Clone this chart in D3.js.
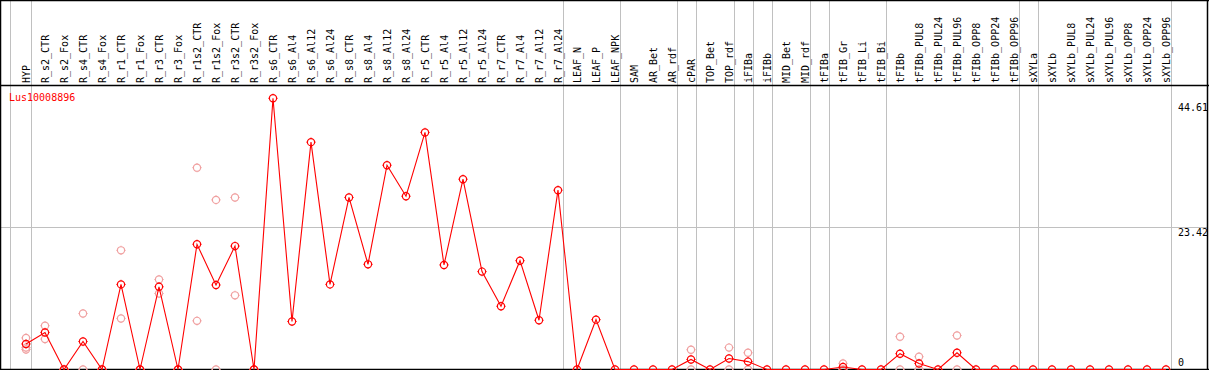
<!DOCTYPE html>
<html>
<head>
<meta charset="utf-8">
<script src="https://cdn.jsdelivr.net/npm/d3@7"></script>
<style>
  body { margin: 0; background: #fff; }
  svg text { font-family: "DejaVu Sans Mono", monospace; font-size: 10px; }
</style>
</head>
<body>
<svg width="1209" height="370"></svg>
<script>
var categories = ["HYP", "R_s2_CTR", "R_s2_Fox", "R_s4_CTR", "R_s4_Fox", "R_r1_CTR", "R_r1_Fox",
    "R_r3_CTR", "R_r3_Fox", "R_r1s2_CTR", "R_r1s2_Fox", "R_r3s2_CTR", "R_r3s2_Fox",
    "R_s6_CTR", "R_s6_Al4", "R_s6_Al12", "R_s6_Al24", "R_s8_CTR", "R_s8_Al4", "R_s8_Al12", "R_s8_Al24",
    "R_r5_CTR", "R_r5_Al4", "R_r5_Al12", "R_r5_Al24", "R_r7_CTR", "R_r7_Al4", "R_r7_Al12", "R_r7_Al24",
    "LEAF_N", "LEAF_P", "LEAF_NPK", "SAM", "AR_Bet", "AR_rdf", "cPAR", "TOP_Bet", "TOP_rdf",
    "iFIBa", "iFIBb", "MID_Bet", "MID_rdf", "tFIBa", "tFIB_Gr", "tFIB_Li", "tFIB_Bi", "tFIBb",
    "tFIBb_PUL8", "tFIBb_PUL24", "tFIBb_PUL96", "tFIBb_OPP8", "tFIBb_OPP24", "tFIBb_OPP96",
    "sXYLa", "sXYLb", "sXYLb_PUL8", "sXYLb_PUL24", "sXYLb_PUL96", "sXYLb_OPP8", "sXYLb_OPP24", "sXYLb_OPP96"];

// mean expression
var means = [4.2, 6.1, 0, 4.6, 0, 14.0, 0, 13.6, 0, 20.6, 13.9, 20.3, 0,
    44.61, 7.9, 37.4, 14.0, 28.3, 17.3, 33.6, 28.5, 39.0, 17.2, 31.3, 16.1, 10.4, 17.9, 8.1, 29.5,
    0, 8.2, 0, 0, 0, 0, 1.65, 0, 1.8, 1.3, 0, 0, 0, 0, 0.4, 0, 0, 2.6,
    1.0, 0, 2.75, 0, 0, 0, 0, 0, 0, 0, 0, 0, 0, 0];

// replicates (null = none)
var rep1 = [5.2, 7.2, 0, 9.2, 0, 19.6, 0, 14.8, 0, 33.2, 27.9, 28.3, 0,
    null, null, null, null, null, null, null, null, null, null, null, null, null, null, null, null,
    null, null, null, null, null, null, 3.25, null, 3.6, 2.75, null, null, null, null, 1.0, null, null, 5.4,
    2.1, null, 5.6, null, null, null, null, null, null, null, null, null, null, null];
var rep2 = [3.6, 5.0, 0, 0, 0, 8.4, 0, 12.5, 0, 8.0, 0, 12.2, 0,
    null, null, null, null, null, null, null, null, null, null, null, null, null, null, null, null,
    null, null, null, null, null, null, 0, null, 0, 0, null, null, null, null, 0, null, null, 0,
    0, null, 0, null, null, null, null, null, null, null, null, null, null, null];
var rep3 = [3.3];

var seriesName = "Lus10008896";
var yTicks = [44.61, 23.42, 0];
var gridValues = [23.42];
// columns after which a separator is drawn
var groupEnds = [0, 28, 31, 34, 35, 37, 38, 39, 41, 42, 45, 52, 53, 60];

var svg = d3.select("svg"),
    W = +svg.attr("width"),
    headerBottom = 85.5,
    plotBottom = 369.5,
    right = 1207.5;

var x = d3.scalePoint().domain(categories).range([26, 26 + 19 * (categories.length - 1)]);
var y = d3.scaleLinear().domain([0, 44.61]).range([369.5, 98.3]);

// separators
var seps = [x(categories[0]) - 16].concat(groupEnds.map(function(i) { return x(categories[i]) + 4.5; }));
svg.selectAll(".sep").data(seps).enter().append("line")
    .attr("x1", function(d) { return Math.round(d) + 0.5; })
    .attr("x2", function(d) { return Math.round(d) + 0.5; })
    .attr("y1", 0).attr("y2", plotBottom)
    .style("stroke", "#c0c0c0");

svg.selectAll(".grid").data(gridValues).enter().append("line")
    .attr("x1", 0).attr("x2", right)
    .attr("y1", function(d) { return Math.round(y(d)) + 0.5; })
    .attr("y2", function(d) { return Math.round(y(d)) + 0.5; })
    .style("stroke", "#c0c0c0");

// header labels
svg.selectAll(".lab").data(categories).enter().append("text")
    .attr("transform", function(d) { return "translate(" + (x(d) + 4) + ",83) rotate(-90)"; })
    .style("fill", "#000")
    .text(function(d) { return d; });

// frame
var frame = svg.append("g").style("stroke", "#000").style("stroke-width", 1.5);
frame.append("line").attr("x1", 0).attr("x2", W).attr("y1", 0.5).attr("y2", 0.5);
frame.append("line").attr("x1", 0.5).attr("x2", 0.5).attr("y1", 0).attr("y2", plotBottom);
frame.append("line").attr("x1", right).attr("x2", right).attr("y1", 0).attr("y2", plotBottom);
frame.append("line").attr("x1", 0).attr("x2", W).attr("y1", headerBottom).attr("y2", headerBottom);
frame.append("line").attr("x1", 0).attr("x2", W).attr("y1", plotBottom).attr("y2", plotBottom);

// y labels on right
svg.selectAll(".ylab").data(yTicks).enter().append("text")
    .attr("x", 1178)
    .attr("y", function(d) { return Math.min(Math.max(y(d) + 9, headerBottom + 25), plotBottom - 4); })
    .style("fill", "#000")
    .text(function(d) { return d; });

svg.append("text").attr("x", 9).attr("y", 100.5).style("fill", "red").text(seriesName);

function marker(g, cx, cy, color) {
    var r = 3.6;
    g.append("circle").attr("cx", cx).attr("cy", cy).attr("r", r)
        .style("fill", "none").style("stroke", color).style("stroke-width", 1.2);
    [[0, -1], [0, 1], [-1, 0], [1, 0]].forEach(function(d) {
        g.append("line")
            .attr("x1", cx + d[0] * r).attr("y1", cy + d[1] * r)
            .attr("x2", cx + d[0] * (r + 1)).attr("y2", cy + d[1] * (r + 1))
            .style("stroke", color).style("stroke-width", 1);
    });
}

// replicate points
var faint = svg.append("g");
[rep1, rep2, rep3].forEach(function(rep) {
    rep.forEach(function(v, i) {
        if (v === null || v === undefined) return;
        marker(faint, x(categories[i]), y(v), "#f0a0a0");
    });
});

var line = d3.line()
    .x(function(d, i) { return x(categories[i]); })
    .y(function(d) { return y(d); });

svg.append("path").datum(means)
    .attr("d", line)
    .style("fill", "none")
    .style("stroke", "red")
    .style("stroke-width", 1.1);

var main = svg.append("g");
means.forEach(function(v, i) {
    marker(main, x(categories[i]), y(v), "red");
});
</script>
</body>
</html>
